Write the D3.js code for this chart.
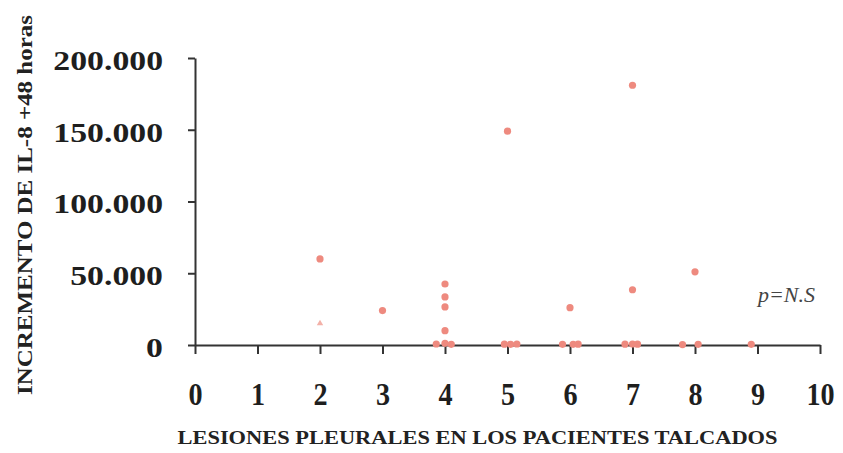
<!DOCTYPE html>
<html>
<head>
<meta charset="utf-8">
<script src="https://cdn.jsdelivr.net/npm/d3@7"></script>
<style>
  html, body { margin: 0; padding: 0; background: #fff; }
  svg { display: block; }
  text { font-family: "Liberation Serif", "Times New Roman", serif; fill: #222; }
</style>
</head>
<body>
<svg id="chart" width="843" height="453"></svg>
<script>
// Lesion count per patient (x, slightly spread so stacked points stay visible)
const lesiones = [2, 3, 4, 4, 4, 4, 3.86, 4.0, 4.1, 5, 4.95, 5.05, 5.15, 6, 5.88, 6.05, 6.13, 7, 7, 6.88, 7.0, 7.08, 8, 7.8, 8.05, 8.9];
// Increase of IL-8 at +48 h for each patient
const incremento = [60000, 24000, 42500, 33500, 26500, 10000, 700, 1200, 500, 149000, 600, 500, 700, 26000, 500, 500, 600, 181000, 38500, 600, 700, 600, 51000, 300, 500, 500];
// Single patient drawn with the open triangle marker
const trianguloX = [2];
const trianguloY = [15000];

const xTicks = [0, 1, 2, 3, 4, 5, 6, 7, 8, 9, 10];
const yTicks = [0, 50000, 100000, 150000, 200000];
const xTitle = "LESIONES PLEURALES EN LOS PACIENTES TALCADOS";
const yTitle = "INCREMENTO DE IL-8 +48 horas";
const pLabel = "p=N.S";

const svg = d3.select("#chart");
const plotLeft = 195, plotRight = 820, plotTop = 58, plotBottom = 345;

const x = d3.scaleLinear().domain([0, 10]).range([plotLeft, plotRight]);
const y = d3.scaleLinear().domain([0, 200000]).range([plotBottom, plotTop]);

const es = d3.formatLocale({ decimal: ",", thousands: ".", grouping: [3], currency: ["", ""] });
const fmt = es.format(",");

const axisColor = "#333";

// Y axis
const gy = svg.append("g")
  .attr("transform", `translate(${plotLeft},0)`)
  .call(d3.axisLeft(y).tickValues(yTicks).tickSize(7).tickSizeOuter(0).tickFormat(fmt));
gy.select(".domain").attr("stroke", axisColor).attr("stroke-width", 2);
gy.selectAll(".tick line").attr("stroke", axisColor).attr("stroke-width", 2);
gy.selectAll(".tick text")
  .attr("x", 0)
  .attr("dy", "0.35em")
  .attr("transform", "translate(-32,2) scale(1.25,1)")
  .style("font-size", "27px")
  .style("font-weight", "bold")
  .style("fill", "#1e1e1e");

// X axis
const gx = svg.append("g")
  .attr("transform", `translate(0,${plotBottom})`)
  .call(d3.axisBottom(x).tickValues(xTicks).tickSize(9).tickSizeOuter(0).tickFormat(d3.format("d")));
gx.select(".domain").attr("stroke", axisColor).attr("stroke-width", 2);
gx.selectAll(".tick line").attr("stroke", axisColor).attr("stroke-width", 2);
gx.selectAll(".tick text")
  .attr("y", 60)
  .attr("dy", 0)
  .attr("transform", "scale(0.88,1)")
  .style("font-size", "32px")
  .style("font-weight", "bold")
  .style("fill", "#1e1e1e");

// Points
const pts = lesiones.map((v, i) => ({ x: v, y: incremento[i] }));
svg.append("g").selectAll("circle")
  .data(pts)
  .join("circle")
  .attr("cx", d => x(d.x))
  .attr("cy", d => y(d.y))
  .attr("r", 3.6)
  .attr("fill", "#ee8a7f");

svg.append("g").selectAll("path")
  .data(trianguloX.map((v, i) => ({ x: v, y: trianguloY[i] })))
  .join("path")
  .attr("transform", d => `translate(${x(d.x)},${y(d.y)})`)
  .attr("d", d3.symbol(d3.symbolTriangle, 18))
  .attr("fill", "#f3b1a8");

// Titles
svg.append("text")
  .attr("x", (plotLeft + plotRight) / 2 - 30)
  .attr("y", 444)
  .attr("text-anchor", "middle")
  .attr("textLength", 600)
  .attr("lengthAdjust", "spacingAndGlyphs")
  .style("font-size", "19px")
  .style("font-weight", "bold")
  .text(xTitle);

svg.append("text")
  .attr("transform", "translate(32,205) rotate(-90)")
  .attr("text-anchor", "middle")
  .attr("textLength", 380)
  .attr("lengthAdjust", "spacingAndGlyphs")
  .style("font-size", "21px")
  .style("font-weight", "bold")
  .text(yTitle);

svg.append("text")
  .attr("x", 815)
  .attr("y", 302)
  .attr("text-anchor", "end")
  .style("font-size", "22px")
  .style("font-style", "italic")
  .style("fill", "#444")
  .text(pLabel);
</script>
</body>
</html>
